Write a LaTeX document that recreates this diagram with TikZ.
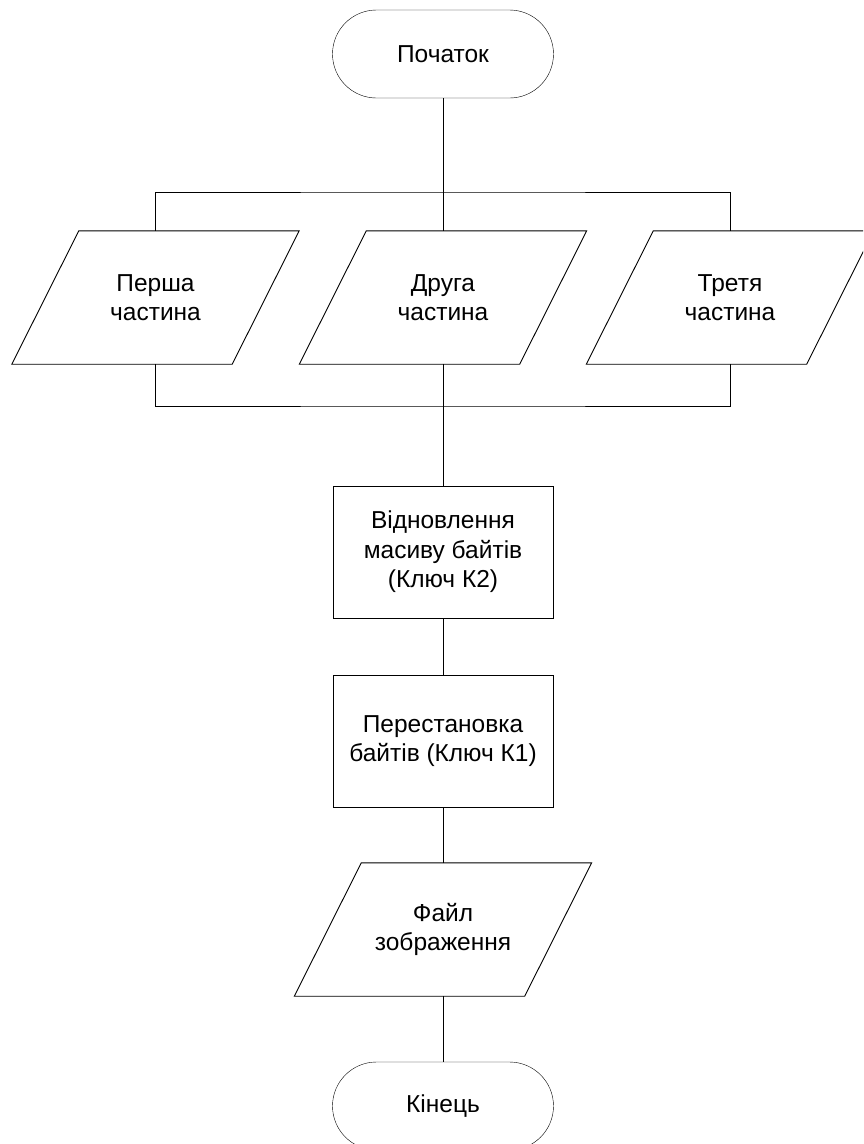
\documentclass[tikz,border=0pt]{standalone}
\usepackage{fontspec}
\setmainfont{Liberation Sans}
\usetikzlibrary{calc}
\tikzset{
  base/.style={font=\fontsize{24.5}{29.4}\selectfont, align=center, inner sep=0pt},
  terminal/.style={base, draw, rounded corners=44pt, minimum width=221pt, minimum height=88pt},
  procbox/.style={base, draw, minimum width=220pt, minimum height=132pt},
  iobox/.style={base, minimum width=220pt, minimum height=133pt},
  conn/.style={line width=0.9pt, black},
  shapeline/.style={line width=0.9pt, black}
}
\newcommand{\parabox}[2]{% node name, half slant
  \draw[shapeline] ($(#1.north west)+(#2,0)$) -- ($(#1.north east)+(#2,0)$) --
    ($(#1.south east)+(-#2,0)$) -- ($(#1.south west)+(-#2,0)$) -- cycle;}
\begin{document}
\begin{tikzpicture}[x=1pt,y=-1pt]
\clip (0,0) rectangle (863,1144);
\fill[white] (0,0) rectangle (863,1144);

\node[terminal] (start) at (443,54) {Початок};

\node[iobox] (p1) at (155.5,297.5) {Перша\\частина};
\node[iobox] (p2) at (443,297.5) {Друга\\частина};
\node[iobox] (p3) at (730,297.5) {Третя\\частина};
\parabox{p1}{33.5}
\parabox{p2}{33.5}
\parabox{p3}{33.5}

\node[procbox] (r1) at (443,552) {Відновлення\\масиву байтів\\(Ключ К2)};
\node[procbox] (r2) at (443,741) {Перестановка\\байтів (Ключ К1)};

\node[iobox, minimum width=230pt] (pf) at (443,929.5) {Файл\\зображення};
\parabox{pf}{33.5}

\node[terminal] (end) at (443,1106) {Кінець};

\coordinate (jt) at (443,192);
\coordinate (jb) at (443,406);

\draw[conn] (start.south) -- (p2.north);
\draw[conn] (p1.north) |- (jt) -| (p3.north);
\draw[conn] (p1.south) |- (jb) -| (p3.south);
\draw[conn] (p2.south) -- (r1.north);
\draw[conn] (r1.south) -- (r2.north);
\draw[conn] (r2.south) -- (pf.north);
\draw[conn] (pf.south) -- (end.north);
\end{tikzpicture}
\end{document}
